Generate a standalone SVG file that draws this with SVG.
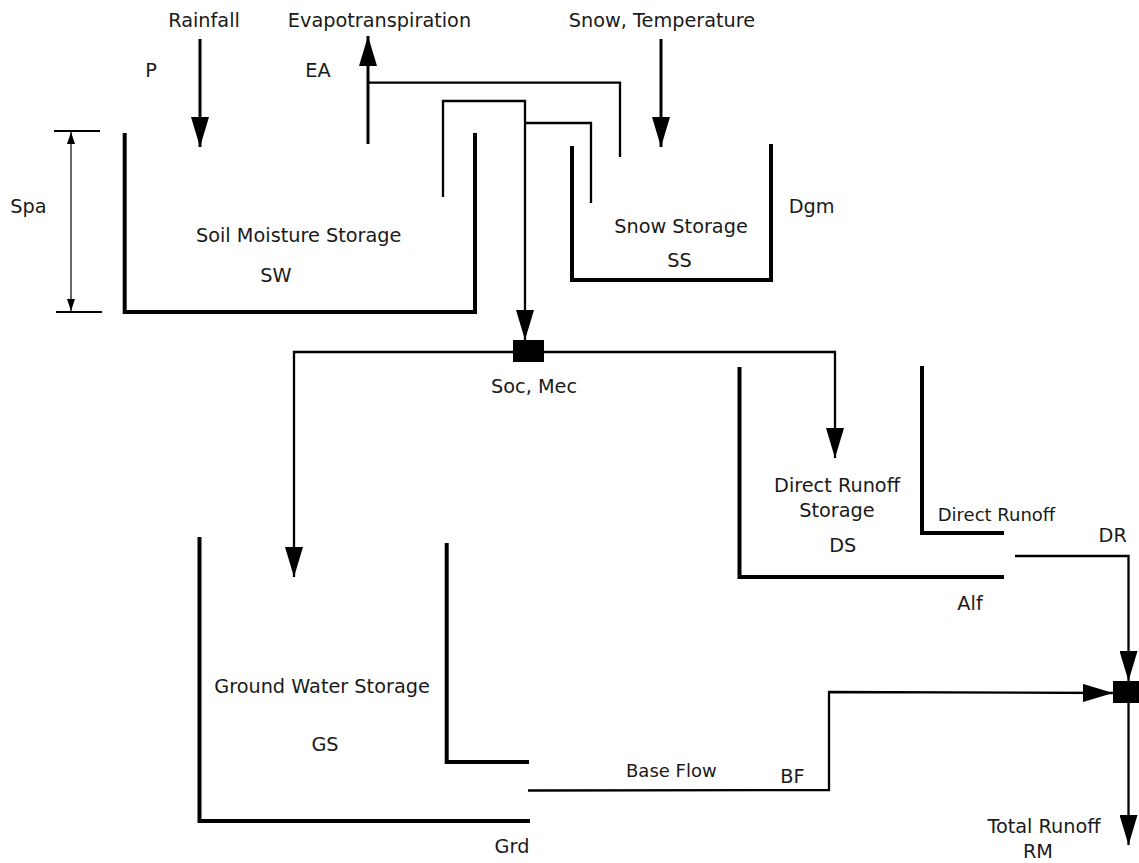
<svg xmlns="http://www.w3.org/2000/svg" width="1139" height="863" viewBox="0 0 1139 863">
<style>
text{font-family:"DejaVu Sans","Liberation Sans",sans-serif;font-size:19.3px;fill:#1a1a1a;text-anchor:middle}
.sm{font-size:18px;text-anchor:start}
.wall{fill:none;stroke:#000;stroke-width:4}
.con{fill:none;stroke:#000;stroke-width:2.3}
.in{fill:none;stroke:#000;stroke-width:3}
.dim{fill:none;stroke:#000;stroke-width:1.2}
.tick{stroke:#000;stroke-width:2}
</style>
<defs>
<marker id="ah" markerUnits="userSpaceOnUse" markerWidth="30" markerHeight="18" refX="30" refY="9" orient="auto" viewBox="0 0 30 18">
<path d="M0,0 L30,9 L0,18 z" fill="#000"/>
</marker>
<marker id="sh" markerUnits="userSpaceOnUse" markerWidth="12" markerHeight="8" refX="12" refY="4" orient="auto" viewBox="0 0 12 8">
<path d="M0,0 L12,4 L0,8 z" fill="#000"/>
</marker>
</defs>
<rect width="1139" height="863" fill="#fff"/>

<g id="inputs">
<text x="204" y="27">Rainfall</text>
<text x="379.5" y="27">Evapotranspiration</text>
<text x="662" y="27">Snow, Temperature</text>
<text x="151" y="77">P</text>
<text x="318" y="77">EA</text>
</g>

<g id="spa">
<line class="tick" x1="54" y1="131" x2="100" y2="131"/>
<line class="tick" x1="56" y1="312" x2="102" y2="312"/>
<line class="dim" x1="71" y1="222" x2="71" y2="132" marker-end="url(#sh)"/>
<line class="dim" x1="71" y1="222" x2="71" y2="311" marker-end="url(#sh)"/>
<text x="28.5" y="213">Spa</text>
</g>

<g id="soil-moisture">
<polyline class="wall" points="124.7,133 124.7,312 475,312 475,133"/>
<text x="298.7" y="242">Soil Moisture Storage</text>
<text x="276" y="282">SW</text>
</g>

<g id="snow-storage">
<polyline class="wall" points="572,146 572,280 771,280 771,144"/>
<text x="681" y="233">Snow Storage</text>
<text x="679.5" y="267">SS</text>
<text x="811.7" y="213">Dgm</text>
</g>

<g id="junction-soc">
<rect x="513" y="340" width="31" height="22" fill="#000"/>
<text x="534" y="393">Soc, Mec</text>
</g>

<g id="direct-runoff-storage">
<polyline class="wall" points="739.5,367 739.5,577 1004,577"/>
<polyline class="wall" points="922,366 922,533 1004,533"/>
<text x="837" y="492">Direct Runoff</text>
<text x="837" y="517">Storage</text>
<text x="842.7" y="552">DS</text>
<text class="sm" x="937.7" y="521">Direct Runoff</text>
<text x="1112.7" y="542">DR</text>
<text x="970" y="610">Alf</text>
</g>

<g id="groundwater-storage">
<polyline class="wall" points="199.5,537 199.5,821 530,821"/>
<polyline class="wall" points="446.7,543 446.7,762 529,762"/>
<text x="322" y="693">Ground Water Storage</text>
<text x="325" y="751">GS</text>
<text x="512" y="853">Grd</text>
<text class="sm" x="626" y="777">Base Flow</text>
<text x="792.5" y="783">BF</text>
</g>

<g id="junction-total">
<rect x="1113" y="681" width="32" height="22" fill="#000"/>
<text x="1044" y="833">Total Runoff</text>
<text x="1038" y="858">RM</text>
</g>

<g id="connectors">
<line class="in" x1="200" y1="39" x2="200" y2="147" marker-end="url(#ah)"/>
<line class="in" x1="661" y1="39" x2="661" y2="147" marker-end="url(#ah)"/>
<line class="in" x1="368" y1="144" x2="368" y2="36" marker-end="url(#ah)"/>
<polyline class="con" points="368,82.7 620,82.7 620,157"/>
<polyline class="con" points="443,197 443,101 525,101 525,340" marker-end="url(#ah)"/>
<polyline class="con" points="525,123 591,123 591,203"/>
<polyline class="con" points="513,352 294,352 294,577" marker-end="url(#ah)"/>
<polyline class="con" points="544,352 835,352 835,458" marker-end="url(#ah)"/>
<polyline class="con" points="1015,556 1128.5,556 1128.5,681" marker-end="url(#ah)"/>
<polyline class="con" points="528,790.5 829,790 829,692 1113,693" marker-end="url(#ah)"/>
<line class="con" x1="1128.5" y1="703" x2="1128.5" y2="845" marker-end="url(#ah)"/>
</g>
</svg>
